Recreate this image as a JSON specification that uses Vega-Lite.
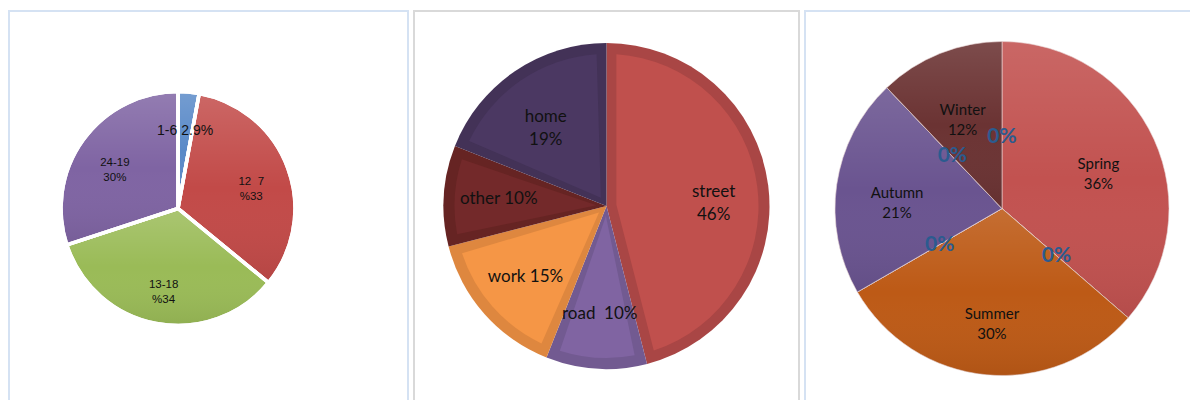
{
  "$schema": "https://vega.github.io/schema/vega-lite/v6.json",
  "background": "white",
  "padding": {"left": 8, "top": 10, "right": 0, "bottom": 0},
  "spacing": 4,
  "resolve": {"scale": {"color": "independent", "theta": "independent"}},
  "hconcat": [
    {
      "width": 399,
      "height": 395,
      "view": {"stroke": "#d5e2f3", "strokeWidth": 2},
      "data": {"values": [
        {"age": "1-6", "v": 2.9, "label": "1-6 2.9%"},
        {"age": "7-12", "v": 33, "label": "12\u00a0\u00a07\n%33"},
        {"age": "13-18", "v": 34, "label": "13-18\n%34"},
        {"age": "19-24", "v": 30, "label": "24-19\n30%"}
      ]},
      "transform": [{"window": [{"op": "row_number", "as": "i"}]}],
      "encoding": {
        "theta": {"field": "v", "type": "quantitative", "stack": true},
        "order": {"field": "i", "type": "quantitative"}
      },
      "layer": [
        {
          "mark": {"type": "arc", "outerRadius": 117, "x": 169, "stroke": "white", "strokeWidth": 3.5},
          "encoding": {
            "color": {"field": "age", "type": "nominal", "legend": null,
              "scale": {"domain": ["1-6", "7-12", "13-18", "19-24"],
                "range": ["#5a8ac8", "#c24a48", "#9abb57", "#7f64a3"]}}
          }
        },
        {
          "mark": {"type": "arc", "outerRadius": 117, "x": 169, "stroke": "white", "strokeWidth": 3.5,
            "fill": {"gradient": "linear", "x1": 0, "y1": 0, "x2": 0, "y2": 1, "stops": [{"offset": 0, "color": "rgba(255,255,255,0.16)"}, {"offset": 0.5, "color": "rgba(255,255,255,0)"}, {"offset": 1, "color": "rgba(0,0,0,0.07)"}]}}
        },
        {
          "mark": {"type": "text", "radius": 78, "x": 169, "font": "Liberation Sans", "lineBreak": "\n", "lineHeight": 15, "baseline": "middle", "align": "center", "color": "#111111"},
          "encoding": {
            "text": {"field": "label"},
            "size": {"condition": {"test": "datum.age === '1-6'", "value": 14}, "value": 11.5}
          }
        }
      ]
    },
    {
      "width": 385,
      "height": 395,
      "view": {"stroke": "#d9d9d9", "strokeWidth": 2},
      "data": {"values": [
        {"place": "street", "v": 46, "label": "street\n46%"},
        {"place": "road", "v": 10, "label": "road\u00a0\u00a010%"},
        {"place": "work", "v": 15, "label": "work 15%"},
        {"place": "other", "v": 10, "label": "other 10%"},
        {"place": "home", "v": 19, "label": "home\n19%"}
      ]},
      "transform": [{"window": [{"op": "row_number", "as": "i"}]}],
      "encoding": {
        "theta": {"field": "v", "type": "quantitative", "stack": true},
        "order": {"field": "i", "type": "quantitative"}
      },
      "resolve": {"scale": {"color": "independent"}},
      "layer": [
        {
          "mark": {"type": "arc", "outerRadius": 163, "y": 195},
          "encoding": {
            "color": {"field": "place", "type": "nominal", "legend": null,
              "scale": {"domain": ["street", "road", "work", "other", "home"],
                "range": ["#a94645", "#725a91", "#de873f", "#662423", "#433257"]}}
          }
        },
        {
          "mark": {"type": "arc", "outerRadius": 152, "innerRadius": 10, "padAngle": 0.13, "y": 195},
          "encoding": {
            "color": {"field": "place", "type": "nominal", "legend": null,
              "scale": {"domain": ["street", "road", "work", "other", "home"],
                "range": ["#c0504d", "#8064a2", "#f59646", "#73292a", "#4b3862"]}}
          }
        },
        {
          "mark": {"type": "text", "radius": 108, "y": 195, "font": "Lato", "fontSize": 17, "lineBreak": "\n", "lineHeight": 23, "baseline": "middle", "align": "center", "color": "#111111"},
          "encoding": {"text": {"field": "label"}}
        }
      ]
    },
    {
      "width": 390,
      "height": 395,
      "view": {"stroke": "#d5e2f3", "strokeWidth": 2},
      "data": {"values": [
        {"season": "z0", "v": 0, "label": "0%"},
        {"season": "Spring", "v": 36, "label": "Spring\n36%"},
        {"season": "z1", "v": 0, "label": "0%"},
        {"season": "Summer", "v": 30, "label": "Summer\n30%"},
        {"season": "z2", "v": 0, "label": "0%"},
        {"season": "Autumn", "v": 21, "label": "Autumn\n21%"},
        {"season": "z3", "v": 0, "label": "0%"},
        {"season": "Winter", "v": 12, "label": "Winter\n12%"}
      ]},
      "transform": [{"window": [{"op": "row_number", "as": "i"}]}],
      "encoding": {
        "theta": {"field": "v", "type": "quantitative", "stack": true},
        "order": {"field": "i", "type": "quantitative"}
      },
      "layer": [
        {
          "mark": {"type": "arc", "outerRadius": 167, "x": 197, "stroke": "#ead6d6", "strokeWidth": 0.6},
          "encoding": {
            "color": {"field": "season", "type": "nominal", "legend": null,
              "scale": {"domain": ["Spring", "Summer", "Autumn", "Winter", "z0", "z1", "z2", "z3"],
                "range": ["#c25250", "#bd5a16", "#6a5490", "#6b3333", "#ffffff", "#ffffff", "#ffffff", "#ffffff"]}}
          }
        },
        {
          "mark": {"type": "arc", "outerRadius": 167, "x": 197, "strokeWidth": 0,
            "fill": {"gradient": "linear", "x1": 0, "y1": 0, "x2": 0, "y2": 1, "stops": [{"offset": 0, "color": "rgba(255,255,255,0.12)"}, {"offset": 0.5, "color": "rgba(255,255,255,0)"}, {"offset": 1, "color": "rgba(0,0,0,0.07)"}]}}
        },
        {
          "mark": {"type": "text", "radius": 106, "x": 197, "font": "Lato", "fontSize": 15, "lineBreak": "\n", "lineHeight": 19.5, "baseline": "middle", "align": "center", "color": "#111111"},
          "encoding": {"text": {"condition": {"test": "datum.v === 0", "value": ""}, "field": "label"}}
        },
        {
          "mark": {"type": "text", "radius": 72, "x": 197, "font": "Lato", "fontSize": 21, "fontWeight": "bold", "baseline": "middle", "align": "center", "color": "#2b5b8f"},
          "encoding": {"text": {"condition": {"test": "datum.v === 0", "value": "0%"}, "value": ""}}
        }
      ]
    }
  ]
}
